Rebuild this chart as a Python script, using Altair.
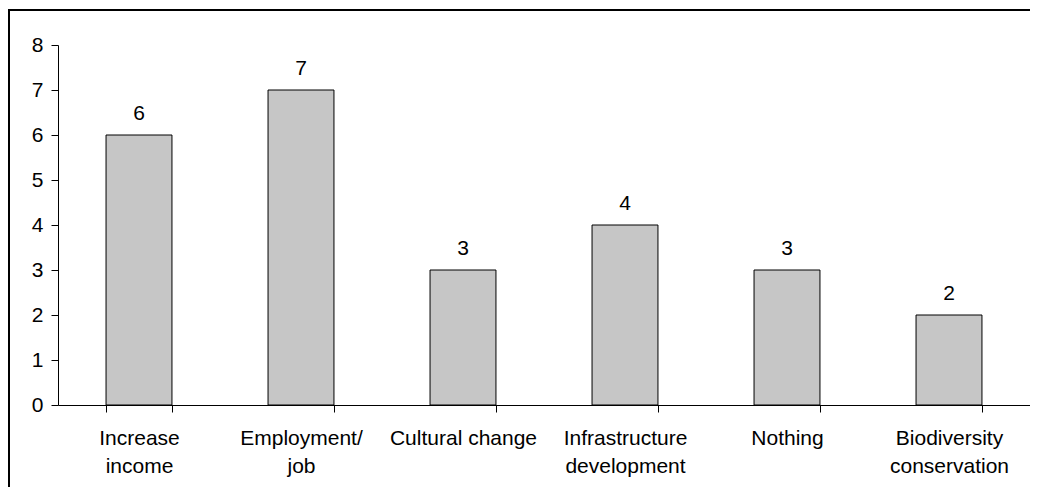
import altair as alt
import pandas as pd

categories = ["Increase\nincome", "Employment/\njob", "Cultural change",
              "Infrastructure\ndevelopment", "Nothing", "Biodiversity\nconservation"]
values = [6, 7, 3, 4, 3, 2]
y_ticks = [0, 1, 2, 3, 4, 5, 6, 7, 8]

df = pd.DataFrame({"cat": categories, "val": values})
W, H = 972, 360
FONT = "Liberation Sans"
FS = 21

x = alt.X("cat:N", sort=categories, title=None,
          scale=alt.Scale(paddingInner=0.593, paddingOuter=0.2965),
          axis=alt.Axis(labelAngle=0, tickBand="extent", tickSize=7, labelPadding=15,
                        labelExpr="split(datum.label, '\\n')", labelLineHeight=28,
                        labelFontSize=FS, labelFont=FONT, labelColor="black",
                        domainColor="black", tickColor="black", domainWidth=1, tickWidth=1,
                        grid=False, labelBaseline="top", labelLimit=300))
y = alt.Y("val:Q", title=None, scale=alt.Scale(domain=[0, 8], nice=False),
          axis=alt.Axis(values=y_ticks, tickSize=7, labelPadding=8, labelFontSize=FS,
                        labelFont=FONT, labelColor="black", domainColor="black",
                        tickColor="black", grid=False, format="d"))

bars = alt.Chart(df).mark_bar(fill="#c6c6c6", stroke="black", strokeWidth=1).encode(x=x, y=y)
labels = alt.Chart(df).mark_text(dy=-15, baseline="alphabetic", fontSize=FS, font=FONT,
                                 color="black").encode(x=alt.X("cat:N", sort=categories),
                                                       y="val:Q", text="val:Q")
border = alt.Chart(pd.DataFrame({"a": [0]})).mark_rect(
    fill=None, stroke="black", strokeWidth=2, clip=False
).encode(x=alt.value(-49), x2=alt.value(W + 30), y=alt.value(-35), y2=alt.value(H + 120))

chart = alt.layer(bars, labels, border).properties(
    width=W, height=H, autosize=alt.AutoSizeParams(type="none"),
    padding={"left": 50, "top": 37, "right": 0, "bottom": 82},
    view=alt.ViewBackground(stroke="transparent", strokeWidth=0)
).configure_view(strokeWidth=0).configure_axis(grid=False).configure(background="white")

chart.save("out.html", embed_options={"renderer": "svg", "actions": False})
